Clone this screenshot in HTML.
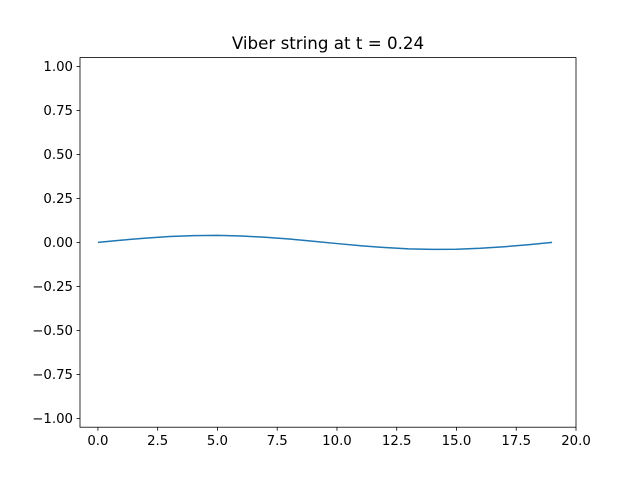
<!DOCTYPE html>
<html><head><meta charset="utf-8"><style>
body{margin:0;background:#fff;}
svg text{font-family:"DejaVu Sans","Liberation Sans",sans-serif;}
</style></head><body>
<svg id="chart" width="640" height="480" viewBox="0 0 640 480">
<rect width="640" height="480" fill="#fff"/>
<text x="328" y="49" font-size="16.7" text-anchor="middle">Viber string at t = 0.24</text>
<g id="xticks"></g>
<g id="yticks"></g>
<path id="line" fill="none" stroke="#1f77b4" stroke-width="1.5"/>
<rect x="80" y="57.6" width="496" height="369.6" fill="none" stroke="#000" stroke-width="0.8"/>
</svg>
<script>
const xValues=[0,1,2,3,4,5,6,7,8,9,10,11,12,13,14,15,16,17,18,19];
const yValues=[0,0.0131,0.0245,0.0335,0.0387,0.0398,0.0366,0.0293,0.0191,0.0066,-0.0066,-0.0191,-0.0293,-0.0366,-0.0398,-0.0387,-0.0335,-0.0245,-0.0131,0];
const xTickLabels=["0.0","2.5","5.0","7.5","10.0","12.5","15.0","17.5","20.0"];
const yTickLabels=["−1.00","−0.75","−0.50","−0.25","0.00","0.25","0.50","0.75","1.00"];
const xTicks=[0,2.5,5,7.5,10,12.5,15,17.5,20];
const yTicks=[-1,-0.75,-0.5,-0.25,0,0.25,0.5,0.75,1];
const X0=80,X1=576,Y0=57.6,Y1=427.2,xmin=-0.75,xmax=20,ymin=-1.05,ymax=1.05;
const sx=v=>X0+(v-xmin)/(xmax-xmin)*(X1-X0);
const sy=v=>Y1-(v-ymin)/(ymax-ymin)*(Y1-Y0);
const NS="http://www.w3.org/2000/svg";
const xg=document.getElementById('xticks'),yg=document.getElementById('yticks');
xTicks.forEach((t,i)=>{
 const l=document.createElementNS(NS,'line');
 l.setAttribute('x1',sx(t));l.setAttribute('x2',sx(t));l.setAttribute('y1',Y1);l.setAttribute('y2',Y1+3.5);l.setAttribute('stroke','#000');l.setAttribute('stroke-width','0.8');
 
 
 xg.appendChild(l);
 const tx=document.createElementNS(NS,'text');
 tx.setAttribute('x',sx(t));tx.setAttribute('y',Y1+18);tx.setAttribute('font-size','13.3');tx.setAttribute('text-anchor','middle');
 tx.textContent=xTickLabels[i];
 
 
 xg.appendChild(tx);
});
yTicks.forEach((t,i)=>{
 const l=document.createElementNS(NS,'line');
 l.setAttribute('x1',X0-3.5);l.setAttribute('x2',X0);l.setAttribute('y1',sy(t));l.setAttribute('y2',sy(t));l.setAttribute('stroke','#000');l.setAttribute('stroke-width','0.8');
 
 
 yg.appendChild(l);
 const tx=document.createElementNS(NS,'text');
 tx.setAttribute('x',X0-7);tx.setAttribute('y',sy(t)+4.8);tx.setAttribute('font-size','13.3');tx.setAttribute('text-anchor','end');
 tx.textContent=yTickLabels[i];
 
 
 yg.appendChild(tx);
});
document.getElementById('line').setAttribute('d',xValues.map((x,i)=>(i?'L':'M')+sx(x).toFixed(2)+' '+sy(yValues[i]).toFixed(2)).join(' '));
</script>
</body></html>
